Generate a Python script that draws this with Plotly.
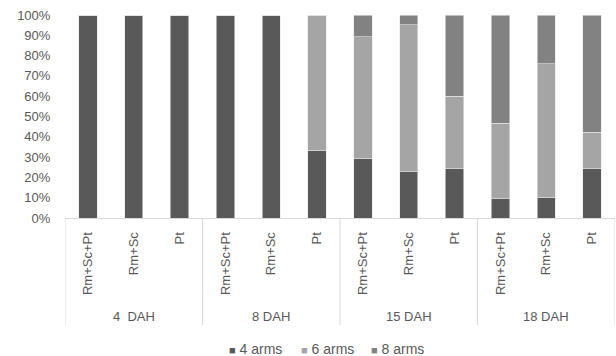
import plotly.graph_objects as go

# Treatments per sampling day, and the day groups they belong to
treatments = ["Rm+Sc+Pt", "Rm+Sc", "Pt"] * 4
days = ["4  DAH", "8 DAH", "15 DAH", "18 DAH"]

# Share of individuals (%) by number of arms
arms4 = [100, 100, 100, 100, 100, 33.3, 29.4, 22.7, 24.3, 9.4, 10.3, 24.3]
arms6 = [0, 0, 0, 0, 0, 66.7, 60.0, 72.4, 35.8, 37.2, 65.6, 17.9]
arms8 = [0, 0, 0, 0, 0, 0, 10.6, 4.9, 39.9, 53.4, 24.1, 57.8]

series = [("4 arms", arms4, "#595959"),
          ("6 arms", arms6, "#a5a5a5"),
          ("8 arms", arms8, "#828282")]

text_color = "#595959"
font = dict(family="Liberation Sans, Arial, sans-serif", size=13, color=text_color)

xs = list(range(len(treatments)))
fig = go.Figure()
for name, vals, col in series:
    fig.add_trace(go.Bar(
        x=xs, y=vals, name=name, marker_color=col,
        marker_line=dict(color="#e6e6e6", width=0.6), width=0.4,
    ))

# Group dividers below the axis and day labels
for b in [-0.5, 2.5, 5.5, 8.5, 11.5]:
    fig.add_shape(type="line", xref="x", yref="paper", x0=b, x1=b, y0=0, y1=-0.527,
                  line=dict(color="#d9d9d9", width=1))
for i, d in enumerate(days):
    fig.add_annotation(text=d, xref="x", yref="paper", x=3 * i + 1, y=-0.483,
                       showarrow=False, font=font, yanchor="middle")

# Compact legend row: small square key followed by the series name
legend_x = [0.295, 0.425, 0.553]
for (name, _, col), lx in zip(series, legend_x):
    fig.add_annotation(
        text=f"<span style='color:{col};font-size:11px'>■</span> {name}",
        xref="paper", yref="paper", x=lx, y=-0.645, xanchor="left", yanchor="middle",
        showarrow=False, font=dict(family=font["family"], size=14, color=text_color),
    )

fig.update_layout(
    barmode="stack",
    width=616, height=356,
    margin=dict(l=65, r=1, t=15, b=138, autoexpand=False),
    paper_bgcolor="white", plot_bgcolor="white",
    font=font,
    showlegend=False,
    xaxis=dict(range=[-0.5, 11.5], tickvals=xs, ticktext=treatments, tickangle=-90,
               showgrid=False, zeroline=False, showline=True, linecolor="#d9d9d9",
               linewidth=1, ticks="outside", ticklen=8, tickcolor="rgba(0,0,0,0)",
               tickfont=font, fixedrange=True, automargin=False),
    yaxis=dict(range=[0, 100], tickvals=list(range(0, 101, 10)),
               ticktext=[f"{v}%" for v in range(0, 101, 10)],
               showgrid=False, zeroline=False, showline=False,
               ticks="outside", ticklen=11, tickcolor="rgba(0,0,0,0)",
               tickfont=font, fixedrange=True, automargin=False),
)

fig.write_html("out.html")
